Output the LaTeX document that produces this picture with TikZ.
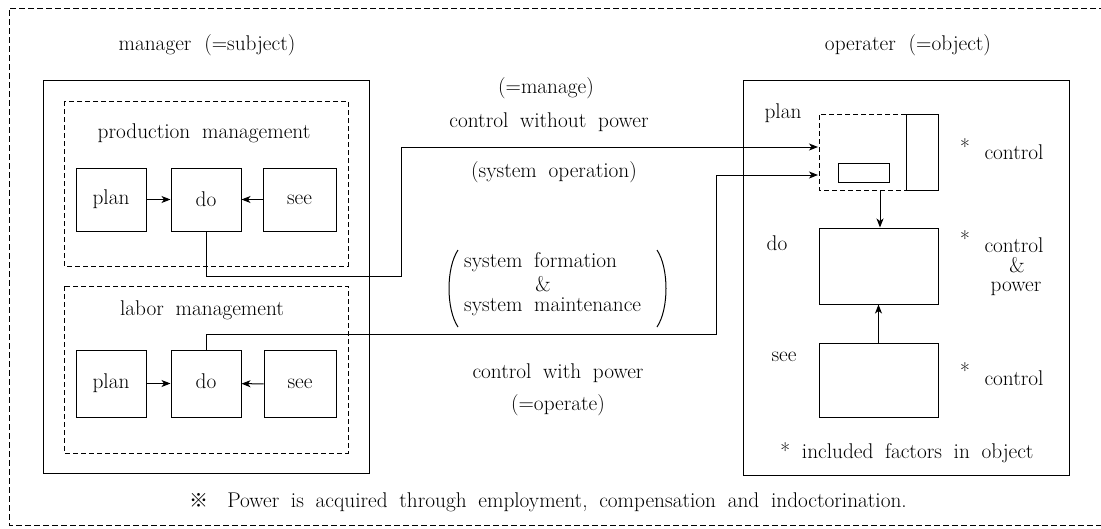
\documentclass[tikz,border=0pt]{standalone}
\usepackage{fontspec}
\newfontfamily\refmark{Noto Sans CJK JP}
\usetikzlibrary{arrows.meta}
\newcommand{\txtfont}{\fontsize{21.3}{24}\selectfont\spaceskip=0.55em\relax}
\tikzset{
  every node/.style={font=\txtfont, inner sep=0pt},
  box/.style={draw, line width=1pt},
  frame/.style={draw, line width=1pt},
  dframe/.style={draw, line width=1pt, dash pattern=on 5pt off 3pt},
  wire/.style={draw, line width=1pt},
  arr/.style={wire, -{Stealth[length=9pt, width=7pt, inset=2.5pt]}},
}
\begin{document}
\begin{tikzpicture}[x=1pt, y=-1pt]
\useasboundingbox (0,0) rectangle (1101,528);

% outer dashed frame (open to the right)
\draw[line width=1pt, dash pattern=on 6pt off 3pt] (1105,8) -- (9,8) -- (9,525) -- (1105,525);

% ---------- manager side ----------
\node (mgrtitle) at (207,45) {manager\hspace{0.6em}(=subject)};
\draw[frame] (43,80) rectangle (369,473);

\draw[dframe] (64,101) rectangle (348,266);
\node (prodtitle) at (204,133) {production management};
\node[box, minimum width=70pt, minimum height=63pt] (plan1) at (111,199.5) {plan};
\node[box, minimum width=70pt, minimum height=63pt] (do1)   at (206,199.5) {do};
\node[box, minimum width=73pt, minimum height=63pt] (see1)  at (299.5,199.5) {see};
\draw[arr] (plan1) -- (do1);
\draw[arr] (see1) -- (do1);

\draw[dframe] (64,286) rectangle (348,453);
\node (labtitle) at (202,310) {labor management};
\node[box, minimum width=70pt, minimum height=67pt] (plan2) at (111,383.5) {plan};
\node[box, minimum width=70pt, minimum height=67pt] (do2)   at (206,383.5) {\raisebox{5pt}{do}};
\node[box, minimum width=72pt, minimum height=67pt] (see2)  at (300,384) {see};
\draw[arr] (plan2) -- (do2);
\draw[arr] (see2) -- (do2);

% ---------- operator side ----------
\node (optitle) at (908,45) {operater\hspace{0.6em}(=object)};
\draw[frame] (743,80) rectangle (1069,475);

\node (planlbl) at (783,113) {plan};
\draw[dframe] (906,114) -- (819,114) -- (819,190) -- (906,190);
\node[box, minimum width=32pt, minimum height=76pt] (tall) at (922,152) {};
\node[box, minimum width=51pt, minimum height=19pt] (small) at (863.5,172.5) {};
\coordinate (in1) at (818,147);
\coordinate (in2) at (818,175);
\coordinate (planout) at (880,190);

\node (dolbl) at (777,243) {do};
\node[box, minimum width=119pt, minimum height=76pt] (doR) at (878.5,266) {};
\node (seelbl) at (784,357) {see};
\node[box, minimum width=119pt, minimum height=74pt] (seeR) at (878.5,380) {};

\draw[arr] (planout) -- (planout |- doR.north);
\draw[arr] (seeR.north) -- (doR.south);

\node (st1) at (965,147) {*};
\node (c1) at (1014,152) {control};
\node (st2) at (965,239) {*};
\node (c2) at (1014,245) {control};
\node (amp2) at (1017,265) {\&};
\node (pw2) at (1016,289) {power};
\node (st3) at (965,371) {*};
\node (c3) at (1014,378) {control};
\node (incl) at (907,453) {*\hspace{0.55em}included factors in object};

% ---------- connections and labels in between ----------
\node (manage) at (546,88) {(=manage)};
\node (cwop) at (549,122) {control without power};
\node (sysop) at (554,172) {(system operation)};
\node[anchor=west] (sf) at (464,262) {system formation};
\node (amp) at (543,284) {\&};
\node[anchor=west] (sm) at (464,307) {system maintenance};
\draw[line width=1pt] (458,250) .. controls (446,268) and (446,309) .. (458,327);
\draw[line width=1pt] (657,250) .. controls (669,268) and (669,309) .. (657,327);
\node (cwp) at (558,373) {control with power};
\node (operate) at (558,405) {(=operate)};

\coordinate (j1) at (401,276);
\coordinate (j2) at (716,334);
\draw[arr] (do1.south) |- (j1) |- (in1);
\draw[arr] (do2.north) |- (j2) |- (in2);

% footnote
\node (note) at (548,502) {{\refmark\fontsize{19}{22}\selectfont ※}\hspace{0.9em}Power is acquired through employment, compensation and indoctorination.};
\end{tikzpicture}
\end{document}
